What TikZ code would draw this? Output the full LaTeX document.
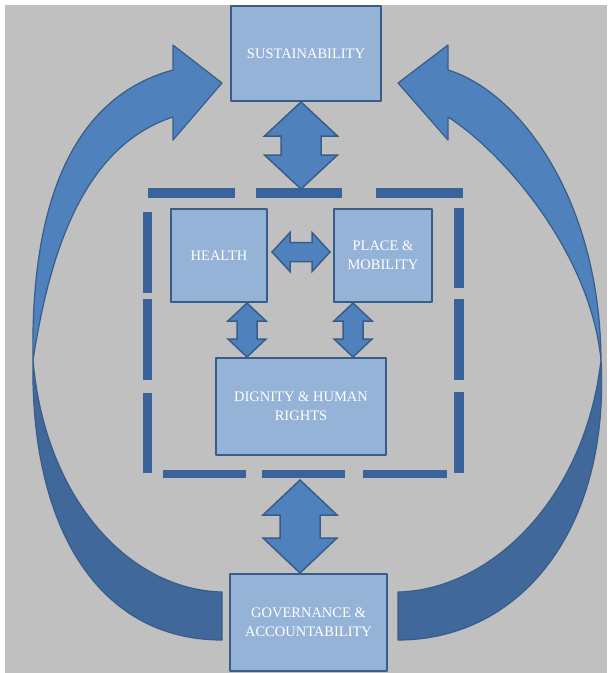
\documentclass[tikz,border=0pt]{standalone}
\usepackage{fontspec}
\setmainfont{Liberation Serif}
\usetikzlibrary{calc}
\definecolor{bggrey}{RGB}{192,192,192}
\definecolor{boxfill}{RGB}{149,179,215}
\definecolor{boxline}{RGB}{56,93,138}
\definecolor{arrfill}{RGB}{79,129,189}
\definecolor{arrback}{RGB}{64,104,154}
\definecolor{dashcol}{RGB}{58,99,155}
\begin{document}
\begin{tikzpicture}[x=1pt,y=-1pt,line join=round,
box/.style={draw=boxline,line width=2pt,fill=boxfill,text=white,align=center,inner sep=0pt,font=\fontsize{14.5}{19}\selectfont},
blockarr/.style={draw=boxline,line width=1.5pt,fill=arrfill,line join=miter},
curvfront/.style={draw=boxline,line width=1.2pt,fill=arrfill},
curvback/.style={draw=boxline,line width=1.2pt,fill=arrback},
dashseg/.style={dashcol,line width=9pt}]
\def\vblock#1#2#3#4#5{\draw[blockarr] (#1)--($(#1)+(#3,#5)$)--($(#1)+(#4,#5)$)--($(#1|-#2)+(#4,-#5)$)--($(#1|-#2)+(#3,-#5)$)--(#1|-#2)
--($(#1|-#2)+(-#3,-#5)$)--($(#1|-#2)+(-#4,-#5)$)--($(#1)+(-#4,#5)$)--($(#1)+(-#3,#5)$)--cycle;}
\def\hblock#1#2#3#4#5{\draw[blockarr] (#1)--($(#1)+(#5,-#3)$)--($(#1)+(#5,-#4)$)--($(#2|-#1)+(-#5,-#4)$)--($(#2|-#1)+(-#5,-#3)$)--(#2|-#1)
--($(#2|-#1)+(-#5,#3)$)--($(#2|-#1)+(-#5,#4)$)--($(#1)+(#5,#4)$)--($(#1)+(#5,#3)$)--cycle;}
\useasboundingbox (0,0) rectangle (612,673);
\fill[white] (0,0) rectangle (612,673);
\fill[bggrey] (5,5) rectangle (607,673);
% left loop
\draw[curvback] (33,360) .. controls (30,530) and (100,640) .. (222,640)--(222,592) .. controls (130,590) and (45,500) .. (33,360)--cycle;
\draw[curvfront] (33,360) .. controls (48,265) and (78,148) .. (173,117)--(173,140)--(222,83)--(173,45)--(173,70) .. controls (80,95) and (30,190) .. (33,360)--cycle;
% right loop
\draw[curvback] (601,360) .. controls (610,530) and (520,640) .. (398,640)--(398,592) .. controls (490,590) and (585,500) .. (601,360)--cycle;
\draw[curvfront] (601,360) .. controls (590,250) and (500,150) .. (448,117)--(448,140)--(398,83)--(448,45)--(448,70) .. controls (520,92) and (600,200) .. (601,360)--cycle;
\foreach \a/\b in {148/235,256/342,376/463} \draw[dashseg,line width=10pt] (\a,193)--(\b,193);
\foreach \a/\b in {163/246,262/345,363/447} \draw[dashseg,line width=8pt] (\a,474)--(\b,474);
\foreach \a/\b in {212/293,299/380,393/473} \draw[dashseg] (147.5,\a)--(147.5,\b);
\foreach \a/\b in {208/288,299/380,392/473} \draw[dashseg,line width=10pt] (458.5,\a)--(458.5,\b);
\node[box,minimum width=150,minimum height=95] (sus) at (306,53.5) {SUSTAINABILITY};
\node[box,minimum width=96,minimum height=93] (health) at (219,255.5) {HEALTH};
\node[box,minimum width=98,minimum height=93] (place) at (383,255.5) {PLACE \&\\MOBILITY};
\node[box,minimum width=170,minimum height=97] (dig) at (301,406.5) {DIGNITY \& HUMAN\\RIGHTS};
\node[box,minimum width=157,minimum height=97] (gov) at (308.5,622.5) {GOVERNANCE \&\\ACCOUNTABILITY};
\coordinate (ftop) at (301,189);
\coordinate (fbot) at (300,480);
\coordinate (st) at (sus.south -| ftop);
\coordinate (gb) at (gov.north -| fbot);
\coordinate (ha) at ($(health.south)+(28,0)$);
\coordinate (hb) at (dig.north -| ha);
\coordinate (pa) at ($(place.south)+(-30,0)$);
\coordinate (pb) at (dig.north -| pa);
\coordinate (hl) at ($(health.east)+(4,-3.5)$);
\coordinate (hr) at ($(place.west)+(-3,-3.5)$);
\vblock{st}{ftop}{36.5}{20}{34}
\vblock{fbot}{gb}{37}{20}{35}
\vblock{ha}{hb}{19}{10}{18}
\vblock{pa}{pb}{19}{10}{18}
\hblock{hl}{hr}{19.5}{9.5}{18}
\end{tikzpicture}
\end{document}
